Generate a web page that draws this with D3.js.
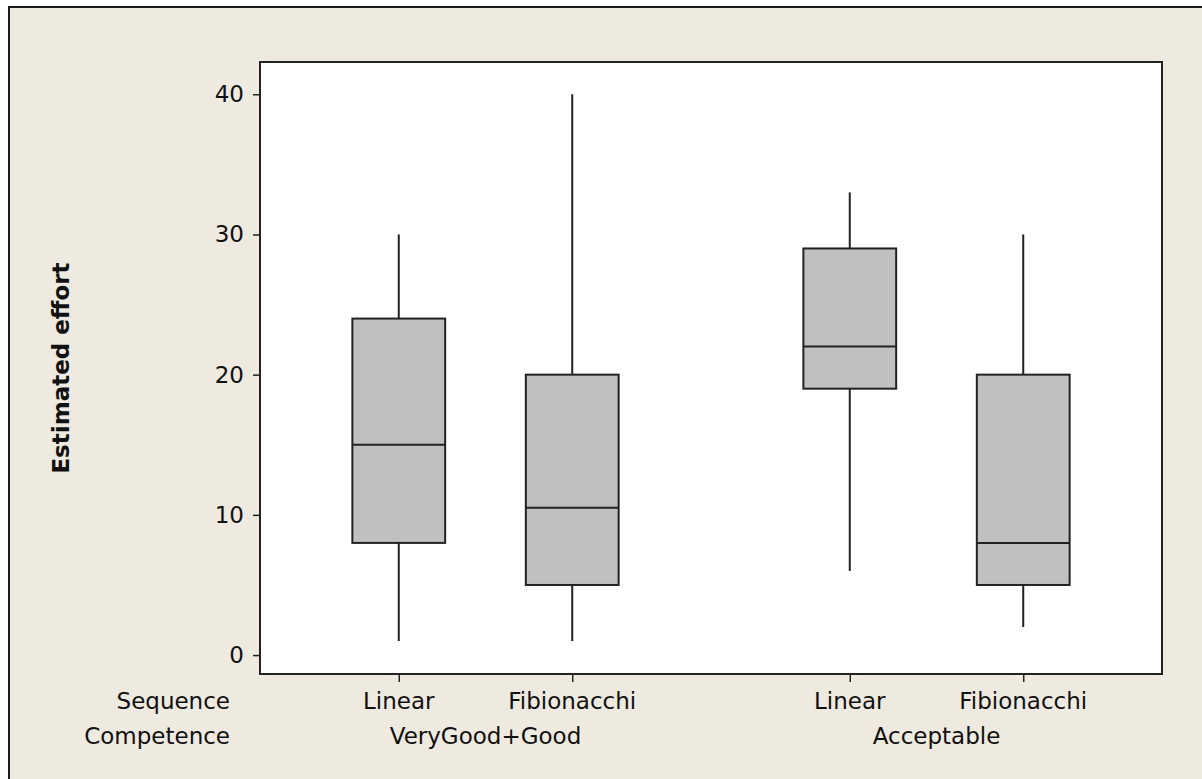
<!DOCTYPE html>
<html>
<head>
<meta charset="utf-8">
<script src="https://cdn.jsdelivr.net/npm/d3@7"></script>
<style>
  body { margin: 0; background: #ffffff; }
  svg text { font-family: "DejaVu Sans", sans-serif; fill: #111; }
</style>
</head>
<body>
<svg id="drawing_region"></svg>
<script>
// box statistics
const sequences = ["Linear", "Fibionacchi", "Linear", "Fibionacchi"];
const groupOf = [0, 0, 1, 1];
const competence = ["VeryGood+Good", "Acceptable"];
const whiskerLow = [1, 1, 6, 2];
const q1 = [8, 5, 19, 5];
const median = [15, 10.5, 22, 8];
const q3 = [24, 20, 29, 20];
const whiskerHigh = [30, 40, 33, 30];
const yTicks = [0, 10, 20, 30, 40];

const config = {
    width: 1202,
    height: 779,
    plot: {left: 260, top: 62, right: 1162, bottom: 674},
    ylabel: 'Estimated effort'
};

// position of each box: groups separated by a wider gap
const pos = sequences.map((s, i) => groupOf[i] * 2.6 + (i % 2) + 1);

const svg = d3.select('#drawing_region')
    .attr('width', config.width)
    .attr('height', config.height);

// outer beige panel
svg.append('rect')
    .attr('x', 9).attr('y', 7)
    .attr('width', 1400).attr('height', 1000)
    .attr('fill', '#eeeae0')
    .attr('stroke', '#1a1a1a')
    .attr('stroke-width', 2);

const p = config.plot;

const xscale = d3.scaleLinear()
    .domain([0.2, 5.4])
    .range([p.left, p.right]);

const yscale = d3.scaleLinear()
    .domain([-1.35, 42.3])
    .range([p.bottom, p.top]);

// plot area
svg.append('rect')
    .attr('x', p.left).attr('y', p.top)
    .attr('width', p.right - p.left)
    .attr('height', p.bottom - p.top)
    .attr('fill', '#ffffff')
    .attr('stroke', '#222')
    .attr('stroke-width', 2);

// y axis
const yaxis = d3.axisLeft(yscale)
    .tickValues(yTicks)
    .tickSize(7)
    .tickPadding(9)
    .tickSizeOuter(0);

const yaxis_group = svg.append('g')
    .attr('transform', `translate(${p.left}, 0)`)
    .call(yaxis);
yaxis_group.select('.domain').remove();
yaxis_group.selectAll('line').attr('stroke', '#222').attr('stroke-width', 1.5);
yaxis_group.selectAll('text')
    .style('font-size', '23px')
    .style('font-family', '"DejaVu Sans", sans-serif')
    .attr('fill', '#111');

// x axis ticks
const xaxis = d3.axisBottom(xscale)
    .tickValues(pos)
    .tickSize(8)
    .tickFormat('')
    .tickSizeOuter(0);

const xaxis_group = svg.append('g')
    .attr('transform', `translate(0, ${p.bottom})`)
    .call(xaxis);
xaxis_group.select('.domain').remove();
xaxis_group.selectAll('line').attr('stroke', '#222').attr('stroke-width', 1.5);

// boxes
const data = sequences.map((s, i) => ({
    label: s, x: pos[i], lo: whiskerLow[i], q1: q1[i],
    med: median[i], q3: q3[i], hi: whiskerHigh[i]
}));
const boxWidth = xscale(0.535) - xscale(0);

const boxes = svg.append('g').selectAll('g')
    .data(data)
    .join('g');

boxes.append('line')
    .attr('x1', d => xscale(d.x)).attr('x2', d => xscale(d.x))
    .attr('y1', d => yscale(d.q3)).attr('y2', d => yscale(d.hi))
    .attr('stroke', '#222').attr('stroke-width', 2);

boxes.append('line')
    .attr('x1', d => xscale(d.x)).attr('x2', d => xscale(d.x))
    .attr('y1', d => yscale(d.q1)).attr('y2', d => yscale(d.lo))
    .attr('stroke', '#222').attr('stroke-width', 2);

boxes.append('rect')
    .attr('x', d => xscale(d.x) - boxWidth / 2)
    .attr('y', d => yscale(d.q3))
    .attr('width', boxWidth)
    .attr('height', d => yscale(d.q1) - yscale(d.q3))
    .attr('fill', '#c0c0c0')
    .attr('stroke', '#222')
    .attr('stroke-width', 2);

boxes.append('line')
    .attr('x1', d => xscale(d.x) - boxWidth / 2)
    .attr('x2', d => xscale(d.x) + boxWidth / 2)
    .attr('y1', d => yscale(d.med)).attr('y2', d => yscale(d.med))
    .attr('stroke', '#222').attr('stroke-width', 2);

// category labels
const row1 = 709, row2 = 744;

svg.append('text')
    .attr('x', 230).attr('y', row1)
    .attr('text-anchor', 'end')
    .style('font-size', '23px')
    .text('Sequence');

svg.append('text')
    .attr('x', 230).attr('y', row2)
    .attr('text-anchor', 'end')
    .style('font-size', '23px')
    .text('Competence');

svg.append('g').selectAll('text')
    .data(data)
    .join('text')
    .attr('x', d => xscale(d.x))
    .attr('y', row1)
    .attr('text-anchor', 'middle')
    .style('font-size', '23px')
    .text(d => d.label);

svg.append('g').selectAll('text')
    .data(competence)
    .join('text')
    .attr('x', (d, g) => {
        const members = pos.filter((v, i) => groupOf[i] === g);
        return xscale(d3.mean(members));
    })
    .attr('y', row2)
    .attr('text-anchor', 'middle')
    .style('font-size', '23px')
    .text(d => d);

// y label
svg.append('text')
    .attr('transform', `translate(69, ${(p.top + p.bottom) / 2}) rotate(-90)`)
    .attr('text-anchor', 'middle')
    .style('font-size', '23px')
    .style('font-weight', 'bold')
    .text(config.ylabel);
</script>
</body>
</html>
